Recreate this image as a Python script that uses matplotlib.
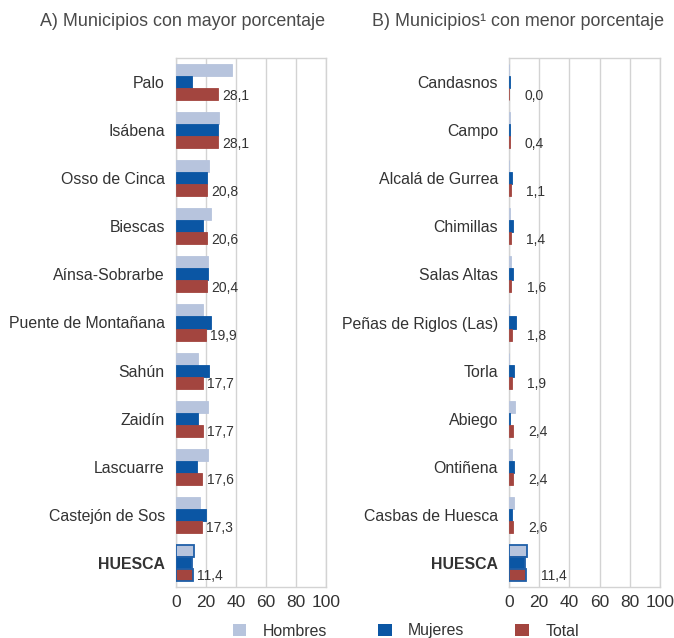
import matplotlib
matplotlib.use("Agg")
import matplotlib.pyplot as plt
import numpy as np
from matplotlib.patches import Patch

plt.rcParams['font.family'] = ['Liberation Sans', 'DejaVu Sans']

# A) municipios con mayor porcentaje
mayor_names = ["Palo", "Isábena", "Osso de Cinca", "Biescas", "Aínsa-Sobrarbe",
               "Puente de Montañana", "Sahún", "Zaidín", "Lascuarre",
               "Castejón de Sos", "HUESCA"]
mayor_hombres = [37.0, 28.5, 22.2, 23.5, 21.0, 17.8, 14.9, 21.3, 21.5, 16.2, 12.2]
mayor_mujeres = [10.5, 28.0, 20.4, 17.8, 21.0, 23.1, 21.8, 14.9, 14.2, 19.8, 10.8]
mayor_total = [28.1, 28.1, 20.8, 20.6, 20.4, 19.9, 17.7, 17.7, 17.6, 17.3, 11.4]

# B) municipios con menor porcentaje
menor_names = ["Candasnos", "Campo", "Alcalá de Gurrea", "Chimillas", "Salas Altas",
               "Peñas de Riglos (Las)", "Torla", "Abiego", "Ontiñena",
               "Casbas de Huesca", "HUESCA"]
menor_hombres = [0.3, 0.5, 0.3, 0.5, 1.0, 0.2, 0.3, 3.8, 1.8, 3.1, 12.2]
menor_mujeres = [0.6, 0.6, 1.8, 2.7, 2.4, 4.7, 3.3, 0.5, 3.3, 2.0, 10.8]
menor_total = [0.0, 0.4, 1.1, 1.4, 1.6, 1.8, 1.9, 2.4, 2.4, 2.6, 11.4]

titles = ["A) Municipios con mayor porcentaje", "B) Municipios\u00b9 con menor porcentaje"]
x_ticks = [0, 20, 40, 60, 80, 100]

c_h = "#B7C4DD"
c_m = "#0B56A4"
c_t = "#A3453F"
c_edge = "#1F5FA8"
grid_c = "#D3D3D3"
text_c = "#333333"

fig = plt.figure(figsize=(6.74, 6.38), dpi=100)
W, H = 674, 638
ax1 = fig.add_axes([176 / W, 51 / H, 150 / W, 529 / H])
ax2 = fig.add_axes([509 / W, 51 / H, 151 / W, 529 / H])


def draw_panel(ax, names, hom, muj, tot, label_pad):
    n = len(names)
    y = np.arange(n)
    bh = 0.25
    edge_h = [c_edge if nm == "HUESCA" else c_h for nm in names]
    edge_m = [c_edge if nm == "HUESCA" else c_m for nm in names]
    edge_t = [c_edge if nm == "HUESCA" else c_t for nm in names]
    lw = [1.3 if nm == "HUESCA" else 0.6 for nm in names]
    ax.barh(y - bh, hom, height=bh, color=c_h, edgecolor=edge_h, linewidth=lw, zorder=3)
    ax.barh(y, muj, height=bh, color=c_m, edgecolor=edge_m, linewidth=lw, zorder=3)
    ax.barh(y + bh, tot, height=bh, color=c_t, edgecolor=edge_t, linewidth=lw, zorder=3)
    for yi, v in zip(y, tot):
        ax.annotate(f"{v:.1f}".replace(".", ","), (v, yi + bh + 0.03),
                    xytext=(label_pad, 0), textcoords="offset points",
                    ha="left", va="center", fontsize=10, color=text_c)
    ax.set_ylim(n - 0.5, -0.5)
    ax.set_xlim(0, 100)
    ax.set_xticks(x_ticks)
    ax.set_xticklabels([str(t) for t in x_ticks], fontsize=12.5, color=text_c)
    ax.set_yticks(y)
    ax.set_yticklabels(names, fontsize=11.4, color=text_c)
    for lab in ax.get_yticklabels():
        if lab.get_text() == "HUESCA":
            lab.set_fontweight("bold")
    ax.tick_params(axis="both", length=0)
    ax.tick_params(axis="y", pad=8)
    ax.tick_params(axis="x", pad=6)
    ax.grid(axis="x", color=grid_c, linewidth=1.0, zorder=0)
    for s in ax.spines.values():
        s.set_color(grid_c)
        s.set_linewidth(1.0)


draw_panel(ax1, mayor_names, mayor_hombres, mayor_mujeres, mayor_total, 3)
draw_panel(ax2, menor_names, menor_hombres, menor_mujeres, menor_total, 11)

fig.text(183 / W, 1 - 22 / H, titles[0], ha="center", va="center", fontsize=12.9, color="#4a4a4a")
fig.text(518 / W, 1 - 22 / H, titles[1], ha="center", va="center", fontsize=12.9, color="#4a4a4a")

handles = [Patch(facecolor=c_h, label="Hombres"),
           Patch(facecolor=c_m, label="Mujeres"),
           Patch(facecolor=c_t, label="Total")]
fig.legend(handles=handles, loc="center", bbox_to_anchor=(406 / W, 1 - 631 / H), ncol=3,
           frameon=False, fontsize=11.4, handlelength=0.85, handleheight=0.85,
           handletextpad=1.05, columnspacing=3.2, labelcolor=text_c)

fig.savefig("out.png", dpi=100)
